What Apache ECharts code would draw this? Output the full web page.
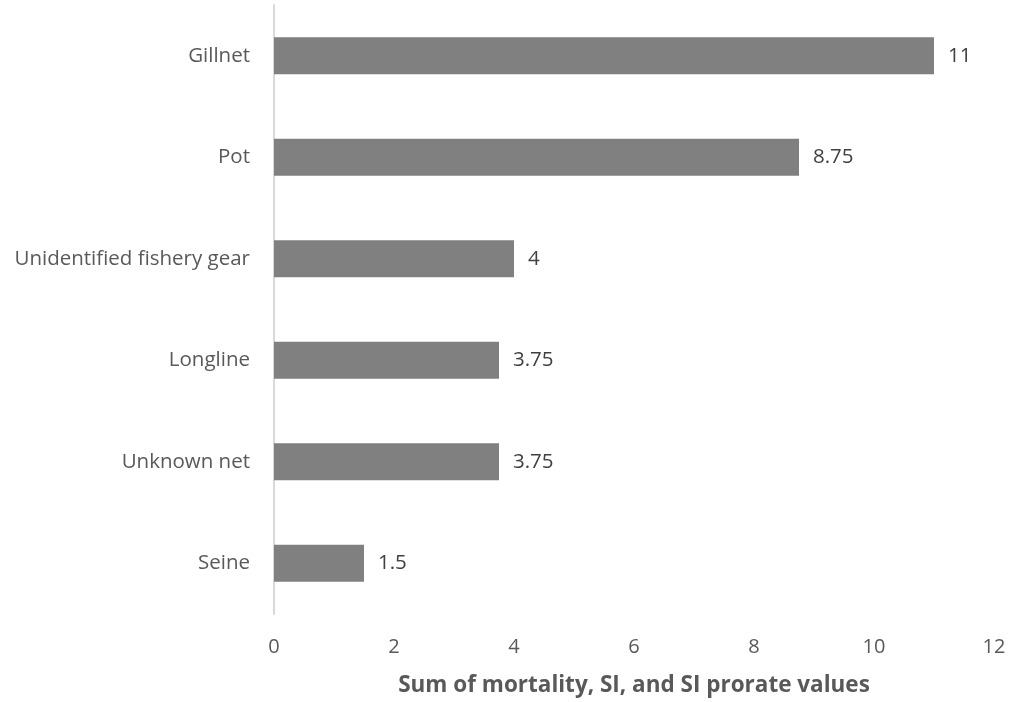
<!DOCTYPE html>
<html>
<head>
<meta charset="utf-8">
<script src="https://cdn.jsdelivr.net/npm/echarts@6/dist/echarts.min.js"></script>
<style>html,body{margin:0;padding:0;background:#fff}#c{width:1011px;height:702px}</style>
</head>
<body>
<div id="c"></div>
<script>
const categories = ["Seine", "Unknown net", "Longline", "Unidentified fishery gear", "Pot", "Gillnet"];
const values = [1.5, 3.75, 3.75, 4, 8.75, 11];
const xTicks = {min: 0, max: 12, interval: 2};
const axisTitle = "Sum of mortality, SI, and SI prorate values";

const chart = echarts.init(document.getElementById('c'), null, {renderer: 'canvas'});
const FONT = 'Open Sans';
chart.setOption({
  animation: false,
  textStyle: {fontFamily: FONT},
  grid: {left: 274, right: 17, top: 5, bottom: 87, containLabel: false},
  xAxis: {
    type: 'value', min: xTicks.min, max: xTicks.max, interval: xTicks.interval,
    splitLine: {show: false}, axisLine: {show: false}, axisTick: {show: false},
    axisLabel: {color: '#595959', fontSize: 20, fontFamily: FONT, margin: 23},
    name: axisTitle, nameLocation: 'middle', nameGap: 60,
    nameTextStyle: {color: '#595959', fontSize: 22.5, fontWeight: 'bold', fontFamily: FONT}
  },
  yAxis: {
    type: 'category', data: categories,
    axisLine: {show: true, lineStyle: {color: '#d9d9d9', width: 2}},
    axisTick: {show: false},
    axisLabel: {color: '#595959', fontSize: 20.5, fontFamily: FONT, margin: 24}
  },
  series: [{
    type: 'bar', data: values, barWidth: 37,
    itemStyle: {color: '#808080'},
    label: {show: true, position: 'right', distance: 14, color: '#404040', fontSize: 20.5, fontFamily: FONT}
  }]
});
</script>
</body>
</html>
